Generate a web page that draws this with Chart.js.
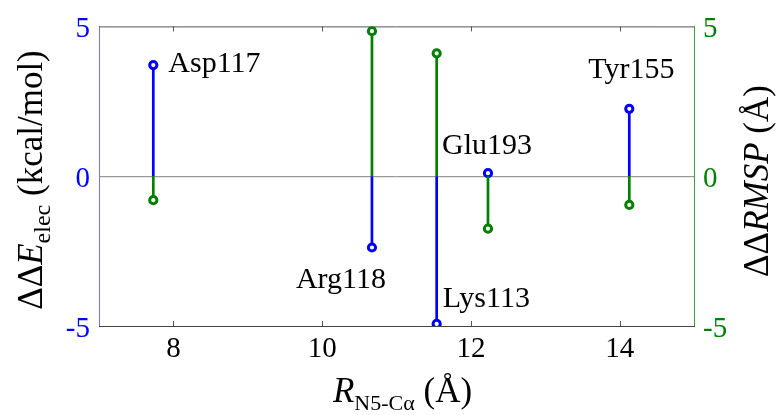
<!DOCTYPE html>
<html>
<head>
<meta charset="utf-8">
<script src="https://cdn.jsdelivr.net/npm/chart.js@4.4.1/dist/chart.umd.min.js"></script>
<style>
  html, body { margin: 0; padding: 0; background: #fff; }
  #stemChart { display: block; }
</style>
</head>
<body>
<canvas id="stemChart" width="777" height="415"></canvas>
<script>
// values
const residues = ['Asp117', 'Arg118', 'Lys113', 'Glu193', 'Tyr155'];
const distance = [7.73, 10.67, 11.54, 12.23, 14.13];   // R N5-Ca (A)
const dEelec = [3.71, -2.38, -4.93, 0.10, 2.25];       // left axis, blue
const dRMSP = [-0.80, 4.84, 4.10, -1.75, -0.96];       // right axis, green
const xTicks = [8, 10, 12, 14];
const yTicks = [-5, 0, 5];

// where each residue name sits relative to its blue marker
const labelPlace = [
  { align: 'left', dx: 15, dy: -1 },
  { align: 'right', dx: 14, dy: 33 },
  { align: 'left', dx: 6, dy: -25 },
  { align: 'center', dx: -1, dy: -27 },
  { align: 'center', dx: 2, dy: -39 },
];

const BLUE = '#0000ff';
const GREEN = '#008000';
const SERIF = '"Liberation Serif", "DejaVu Serif", serif';

const stem = (x, y, color, axis, order) => ({
  type: 'line',
  data: [{ x: x, y: 0 }, { x: x, y: y }],
  yAxisID: axis,
  borderColor: color,
  borderWidth: 2.7,
  pointRadius: [0, 3.6],
  pointBorderWidth: 3,
  pointBorderColor: color,
  pointBackgroundColor: '#fff',
  order: order,
});

const datasets = [];
distance.forEach((x, i) => {
  datasets.push(stem(x, dEelec[i], BLUE, 'y', 1));
  datasets.push(stem(x, dRMSP[i], GREEN, 'y1', 0));
});

function drawRuns(ctx, runs, cx, baseY) {
  let total = 0;
  runs.forEach(r => { ctx.font = r.font; r.w = ctx.measureText(r.text).width; total += r.w; });
  let x = cx - total / 2;
  ctx.textAlign = 'left';
  ctx.textBaseline = 'alphabetic';
  runs.forEach(r => {
    ctx.font = r.font;
    ctx.fillText(r.text, x, baseY + (r.dy || 0));
    x += r.w;
  });
}

const decorPlugin = {
  id: 'decor',
  beforeDatasetsDraw(chart) {
    const { ctx, chartArea: a, scales } = chart;
    ctx.save();
    // zero baseline
    const y0 = scales.y.getPixelForValue(0);
    ctx.strokeStyle = '#808080';
    ctx.lineWidth = 1;
    ctx.beginPath();
    ctx.moveTo(a.left, y0 + 0.5);
    ctx.lineTo(a.right, y0 + 0.5);
    ctx.stroke();
    // top box line and inward ticks
    ctx.strokeStyle = '#555';
    ctx.beginPath();
    ctx.moveTo(a.left, a.top + 0.5);
    ctx.lineTo(a.right, a.top + 0.5);
    xTicks.forEach(v => {
      const px = Math.round(scales.x.getPixelForValue(v)) + 0.5;
      ctx.moveTo(px, a.bottom);
      ctx.lineTo(px, a.bottom - 5);
      ctx.moveTo(px, a.top);
      ctx.lineTo(px, a.top + 5);
    });
    ctx.stroke();
    ctx.restore();
  },
  afterDraw(chart) {
    const { ctx, chartArea: a, scales } = chart;
    ctx.save();
    ctx.fillStyle = '#000';

    // residue names
    ctx.font = '30px ' + SERIF;
    ctx.textBaseline = 'middle';
    residues.forEach((name, i) => {
      const p = labelPlace[i];
      ctx.textAlign = p.align;
      ctx.fillText(name,
        scales.x.getPixelForValue(distance[i]) + p.dx,
        scales.y.getPixelForValue(dEelec[i]) + p.dy);
    });

    // x title
    drawRuns(ctx, [
      { text: 'R', font: 'italic 35px ' + SERIF },
      { text: 'N5-C\u03b1', font: '22px ' + SERIF, dy: 8 },
      { text: ' (\u00c5)', font: '35px ' + SERIF },
    ], (a.left + a.right) / 2 + 6, 402);

    // left title
    ctx.save();
    ctx.translate(42, 180);
    ctx.rotate(-Math.PI / 2);
    drawRuns(ctx, [
      { text: '\u0394\u0394', font: '35px ' + SERIF },
      { text: 'E', font: 'italic 35px ' + SERIF },
      { text: 'elec', font: '24px ' + SERIF, dy: 8 },
      { text: ' (kcal/mol)', font: '35px ' + SERIF },
    ], 0, 0);
    ctx.restore();

    // right title
    ctx.save();
    ctx.translate(768, 181);
    ctx.rotate(-Math.PI / 2);
    drawRuns(ctx, [
      { text: '\u0394\u0394', font: '35px ' + SERIF },
      { text: 'RMSP', font: 'italic 35px ' + SERIF },
      { text: ' (\u00c5)', font: '35px ' + SERIF },
    ], 0, 0);
    ctx.restore();

    ctx.restore();
  },
};

const yAxis = (pos, lineColor, textColor, width) => ({
  type: 'linear',
  position: pos,
  min: -5,
  max: 5,
  afterBuildTicks: s => { s.ticks = yTicks.map(v => ({ value: v })); },
  afterFit: s => { s.width = width; },
  grid: { display: false, drawTicks: false },
  border: { color: lineColor, width: 1 },
  ticks: { color: textColor, font: { family: SERIF, size: 29 }, padding: 9, labelOffset: 3 },
});

new Chart(document.getElementById('stemChart'), {
  type: 'line',
  data: { datasets: datasets },
  options: {
    responsive: false,
    animation: false,
    layout: { padding: { top: 25, left: 0, right: 0, bottom: 0 } },
    plugins: { legend: { display: false }, tooltip: { enabled: false } },
    scales: {
      x: {
        type: 'linear',
        position: 'bottom',
        min: 7,
        max: 15,
        afterBuildTicks: s => { s.ticks = xTicks.map(v => ({ value: v })); },
        afterFit: s => { s.height = 89; },
        grid: { display: false, drawTicks: false },
        border: { color: '#444', width: 1 },
        ticks: { color: '#000', font: { family: SERIF, size: 29 }, padding: 6 },
      },
      y: yAxis('left', 'rgba(0,0,255,0.55)', BLUE, 99),
      y1: yAxis('right', 'rgba(0,128,0,0.75)', GREEN, 83),
    },
  },
  plugins: [decorPlugin],
});
</script>
</body>
</html>
